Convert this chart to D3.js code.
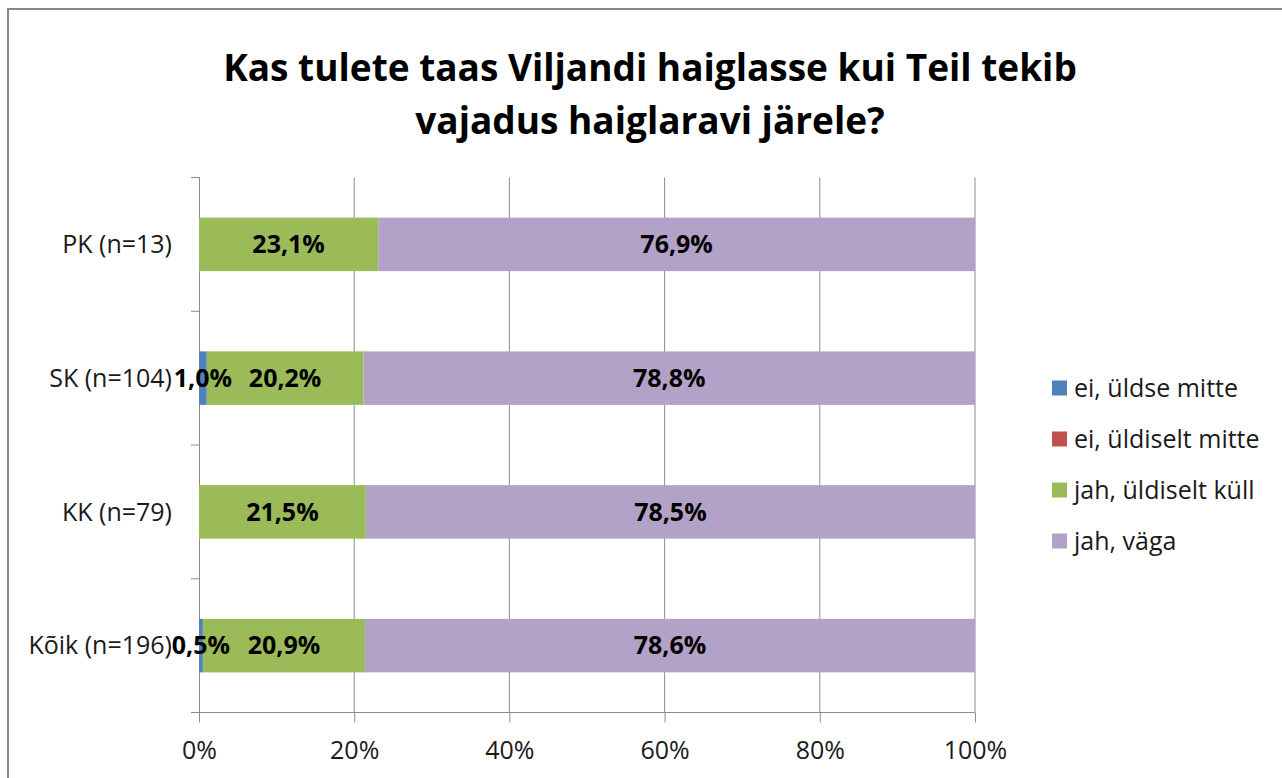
<!DOCTYPE html>
<html>
<head>
<meta charset="utf-8">
<script src="https://cdn.jsdelivr.net/npm/d3@7"></script>
<style>
  body { margin: 0; background: #fff; }
  svg { display: block; font-family: "Open Sans", sans-serif; }
</style>
</head>
<body>
<svg></svg>
<script>
const categories = ['PK (n=13)', 'SK (n=104)', 'KK (n=79)', 'Kõik (n=196)']
const seriesNames = ['ei, üldse mitte', 'ei, üldiselt mitte', 'jah, üldiselt küll', 'jah, väga']
const eiUldseMitte = [0, 1.0, 0, 0.5]
const eiUldiseltMitte = [0, 0, 0, 0]
const jahUldiseltKull = [23.1, 20.2, 21.5, 20.9]
const jahVaga = [76.9, 78.8, 78.5, 78.6]
const xTicks = [0, 20, 40, 60, 80, 100]
const titleLines = ['Kas tulete taas Viljandi haiglasse kui Teil tekib', 'vajadus haiglaravi järele?']

const colors = ['#4F81BD', '#C0504D', '#9BBB59', '#B3A2C7']

const width = 1282
const height = 778

const svg = d3.select('svg')
    .attr('width', width)
    .attr('height', height)

// chart frame (right and bottom edges fall outside the picture)
svg.append('rect')
    .attr('x', 8)
    .attr('y', 9)
    .attr('width', width)
    .attr('height', height)
    .attr('fill', '#fff')
    .attr('stroke', '#878787')
    .attr('stroke-width', 2)

const table = categories.map((c, i) => ({
    cat: c,
    s0: eiUldseMitte[i],
    s1: eiUldiseltMitte[i],
    s2: jahUldiseltKull[i],
    s3: jahVaga[i]
}))
const stacked = d3.stack().keys(['s0', 's1', 's2', 's3'])(table)

const xScale = d3.scaleLinear()
    .domain([0, 100])
    .range([199, 975])

const yScale = d3.scaleBand()
    .domain(categories)
    .range([177.5, 712.5])
    .paddingInner(0.6)
    .paddingOuter(0.3)

// gridlines
svg.append('g')
    .selectAll('line')
    .data(xTicks.slice(1))
    .enter()
    .append('line')
    .attr('x1', d => xScale(d))
    .attr('x2', d => xScale(d))
    .attr('y1', 177.5)
    .attr('y2', 712.5)
    .attr('stroke', '#8c8c8c')
    .attr('stroke-width', 1)

// x axis
const xAxis = d3.axisBottom(xScale)
    .tickValues(xTicks)
    .tickSize(10)
    .tickPadding(19)
    .tickFormat(d => d + '%')

svg.append('g')
    .attr('transform', 'translate(0, 712.5)')
    .call(xAxis)
    .call(g => g.select('.domain').attr('stroke', '#8c8c8c').attr('d', 'M199,0H975'))
    .call(g => g.selectAll('.tick line').attr('stroke', '#8c8c8c'))
    .call(g => g.selectAll('.tick text')
        .attr('fill', '#1a1a1a')
        .style('font-size', '25px')
        .style('font-family', '"Open Sans", sans-serif'))

// y axis: ticks sit between the categories
svg.append('line')
    .attr('x1', 199.5).attr('x2', 199.5)
    .attr('y1', 177.5).attr('y2', 712.5)
    .attr('stroke', '#8c8c8c')

const step = yScale.step()
svg.append('g')
    .selectAll('line')
    .data(d3.range(categories.length + 1))
    .enter()
    .append('line')
    .attr('x1', 191)
    .attr('x2', 199.5)
    .attr('y1', i => 177.5 + i * step)
    .attr('y2', i => 177.5 + i * step)
    .attr('stroke', '#8c8c8c')

svg.append('g')
    .selectAll('text')
    .data(categories)
    .enter()
    .append('text')
    .attr('x', 172)
    .attr('y', d => yScale(d) + yScale.bandwidth() / 2)
    .attr('dy', '0.35em')
    .attr('text-anchor', 'end')
    .style('font-size', '25px')
    .attr('fill', '#1a1a1a')
    .text(d => d)

// bars
const layers = svg.append('g')
    .selectAll('g')
    .data(stacked)
    .enter()
    .append('g')
    .attr('fill', (d, i) => colors[i])

layers.selectAll('rect')
    .data(d => d)
    .enter()
    .append('rect')
    .attr('x', d => xScale(d[0]))
    .attr('y', d => yScale(d.data.cat))
    .attr('width', d => xScale(d[1]) - xScale(d[0]))
    .attr('height', yScale.bandwidth())

// data labels drawn above all bars
const labelData = stacked.flatMap(s => s.filter(p => p[1] - p[0] > 0))
svg.append('g')
    .selectAll('text')
    .data(labelData)
    .enter()
    .append('text')
    .attr('x', d => xScale((d[0] + d[1]) / 2))
    .attr('y', d => yScale(d.data.cat) + yScale.bandwidth() / 2)
    .attr('dy', '0.35em')
    .attr('text-anchor', 'middle')
    .attr('fill', '#000')
    .style('font-size', '25px')
    .style('font-weight', 'bold')
    .text(d => d3.format('.1f')(d[1] - d[0]).replace('.', ',') + '%')

// legend
const legend = svg.append('g')
    .selectAll('g')
    .data(seriesNames)
    .enter()
    .append('g')
    .attr('transform', (d, i) => 'translate(1052, ' + (388 + i * 51) + ')')

legend.append('rect')
    .attr('x', 0)
    .attr('y', -7.5)
    .attr('width', 15)
    .attr('height', 15)
    .attr('fill', (d, i) => colors[i])

legend.append('text')
    .attr('x', 22)
    .attr('y', 0)
    .attr('dy', '0.35em')
    .style('font-size', '25px')
    .attr('fill', '#1a1a1a')
    .text(d => d)

// title
svg.append('g')
    .selectAll('text')
    .data(titleLines)
    .enter()
    .append('text')
    .attr('x', 650)
    .attr('y', (d, i) => 81 + i * 53)
    .attr('text-anchor', 'middle')
    .style('font-size', '37px')
    .style('font-weight', 'bold')
    .attr('fill', '#000')
    .text(d => d)
</script>
</body>
</html>
